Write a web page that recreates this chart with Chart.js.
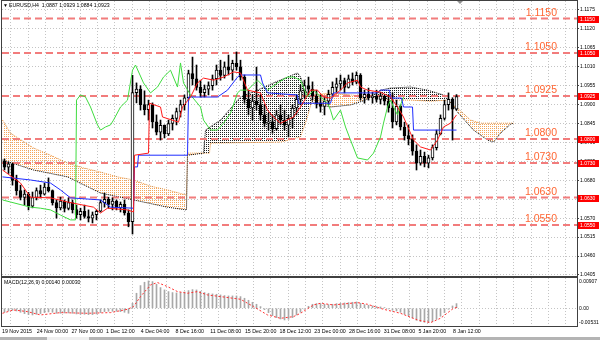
<!DOCTYPE html>
<html>
<head>
<meta charset="utf-8">
<script src="https://cdn.jsdelivr.net/npm/chart.js"></script>
<style>
  html, body { margin: 0; padding: 0; background: #fff; }
  #wrap { position: relative; width: 600px; height: 340px; overflow: hidden; }
  canvas { position: absolute; left: 0; }
  #main { top: 0; }
  #macd { top: 277px; }
</style>
</head>
<body>
<div id="wrap">
  <canvas id="main" width="600" height="277"></canvas>
  <canvas id="macd" width="600" height="63"></canvas>
</div>
<script>
// EURUSD H4 candles (one entry per 8h slot)
const candleOpen = [
  1.0735,1.0718,1.0728,1.0680,1.0650,1.0630,1.0640,1.0605,1.0630,1.0650,
  1.0640,1.0660,1.0650,1.0615,1.0600,1.0620,1.0598,1.0615,1.0595,1.0580,
  1.0590,1.0575,1.0570,1.0580,1.0590,1.0615,1.0625,1.0610,1.0620,1.0600,
  1.0610,1.0585,1.0560,1.0935,1.0945,1.0900,1.0885,1.0900,1.0850,1.0820,
  1.0840,1.0815,1.0845,1.0860,1.0880,1.0900,1.0920,1.0990,1.0975,1.0950,
  1.0935,1.0945,1.0955,1.0975,1.1000,1.0985,1.1010,1.1000,1.1020,1.1010,
  1.0980,1.0915,1.0890,1.0910,1.0900,1.0870,1.0845,1.0850,1.0830,1.0870,
  1.0855,1.0840,1.0860,1.0890,1.0915,1.0940,1.0955,1.0945,1.0925,1.0905,
  1.0895,1.0910,1.0930,1.0950,1.0960,1.0970,1.0950,1.0975,1.0965,1.0985,
  1.0920,1.0930,1.0920,1.0925,1.0915,1.0925,1.0910,1.0890,1.0850,1.0895,
  1.0835,1.0810,1.0800,1.0765,1.0730,1.0750,1.0730,1.0745,1.0775,1.0815,
  1.0860,1.0900,1.0915,1.0887
];
const candleHigh = [
  1.0742,1.0733,1.0730,1.0695,1.0666,1.0652,1.0645,1.0646,1.0658,1.0666,
  1.0672,1.0687,1.0652,1.0623,1.0631,1.0623,1.0629,1.0623,1.0608,1.0599,
  1.0608,1.0594,1.0588,1.0594,1.0623,1.0643,1.0631,1.0629,1.0623,1.0617,
  1.0623,1.0594,1.0985,1.0963,1.0955,1.0940,1.0913,1.0905,1.0870,1.0855,
  1.0841,1.0855,1.0870,1.0890,1.0913,1.0928,1.1000,1.1038,1.1015,1.0971,
  1.0957,1.0966,1.0986,1.1015,1.1029,1.1024,1.1044,1.1029,1.1053,1.1029,
  1.0986,1.0942,1.0928,1.1009,1.0928,1.0899,1.0875,1.0870,1.0884,1.0899,
  1.0884,1.0870,1.0899,1.0928,1.0957,1.0971,1.0980,1.0966,1.0942,1.0928,
  1.0922,1.0942,1.0966,1.0977,1.0986,1.0977,1.0986,1.0992,1.0995,1.0990,
  1.0942,1.0948,1.0936,1.0942,1.0936,1.0928,1.0928,1.0934,1.0913,1.0899,
  1.0849,1.0841,1.0812,1.0783,1.0768,1.0762,1.0753,1.0783,1.0826,1.0870,
  1.0913,1.0934,1.0920,1.0929
];
const candleLow = [
  1.0710,1.0700,1.0666,1.0637,1.0623,1.0608,1.0594,1.0600,1.0623,1.0629,
  1.0637,1.0646,1.0608,1.0570,1.0594,1.0588,1.0594,1.0585,1.0570,1.0565,
  1.0570,1.0559,1.0556,1.0565,1.0588,1.0602,1.0599,1.0594,1.0594,1.0588,
  1.0579,1.0545,1.0524,1.0905,1.0884,1.0870,1.0855,1.0832,1.0812,1.0797,
  1.0803,1.0810,1.0826,1.0841,1.0864,1.0884,1.0913,1.0957,1.0942,1.0922,
  1.0922,1.0928,1.0942,1.0957,1.0971,1.0977,1.0986,1.0971,1.1000,1.0971,
  1.0904,1.0870,1.0855,1.0884,1.0855,1.0835,1.0826,1.0817,1.0825,1.0841,
  1.0826,1.0806,1.0832,1.0870,1.0899,1.0919,1.0928,1.0913,1.0890,1.0878,
  1.0870,1.0899,1.0922,1.0936,1.0942,1.0934,1.0948,1.0957,1.0960,1.0913,
  1.0904,1.0913,1.0904,1.0907,1.0902,1.0899,1.0878,1.0832,1.0841,1.0826,
  1.0797,1.0783,1.0753,1.0710,1.0724,1.0719,1.0716,1.0739,1.0768,1.0812,
  1.0855,1.0884,1.0797,1.0884
];
const candleClose = [
  1.0718,1.0728,1.0680,1.0650,1.0630,1.0640,1.0605,1.0630,1.0650,1.0640,
  1.0660,1.0650,1.0615,1.0600,1.0620,1.0598,1.0615,1.0595,1.0580,1.0590,
  1.0575,1.0570,1.0580,1.0590,1.0615,1.0625,1.0610,1.0620,1.0600,1.0610,
  1.0585,1.0560,1.0935,1.0945,1.0900,1.0885,1.0900,1.0850,1.0820,1.0840,
  1.0815,1.0845,1.0860,1.0880,1.0900,1.0920,1.0990,1.0975,1.0950,1.0935,
  1.0945,1.0955,1.0975,1.1000,1.0985,1.1010,1.1000,1.1020,1.1010,1.0980,
  1.0915,1.0890,1.0910,1.0900,1.0870,1.0845,1.0850,1.0830,1.0870,1.0855,
  1.0840,1.0860,1.0890,1.0915,1.0940,1.0955,1.0945,1.0925,1.0905,1.0895,
  1.0910,1.0930,1.0950,1.0960,1.0970,1.0950,1.0975,1.0965,1.0985,1.0920,
  1.0930,1.0920,1.0925,1.0915,1.0925,1.0910,1.0890,1.0850,1.0895,1.0835,
  1.0810,1.0800,1.0765,1.0730,1.0750,1.0730,1.0745,1.0775,1.0815,1.0860,
  1.0900,1.0915,1.0887,1.0923
];

// Ichimoku lines as [slot, price]
const tenkan = [
  [-0.5,1.0710],[4,1.0672],[6.5,1.0631],[11.5,1.0629],[15.75,1.0617],[22.25,1.0602],[24,1.0585],
  [25.75,1.0599],[30.75,1.0594],[32.25,1.0588],[32.5,1.0753],[36,1.0759],[36.25,1.0904],[39,1.0893],
  [39.5,1.0864],[43.5,1.0849],[44.5,1.0893],[46.5,1.0922],[48.25,1.0963],[49.75,1.0977],[52.25,1.0971],
  [54.75,1.0980],[57.25,1.0995],[59,1.0992],[60.75,1.0942],[64,1.0934],[65.75,1.0884],[67.25,1.0864],
  [69,1.0846],[72.25,1.0864],[74,1.0893],[76.5,1.0942],[78.25,1.0942],[79.75,1.0922],[81.5,1.0919],
  [84,1.0942],[85.75,1.0963],[88.25,1.0971],[89,1.0951],[90.75,1.0942],[94,1.0936],[96.5,1.0922],
  [98.25,1.0893],[99.75,1.0864],[102.25,1.0797],[104,1.0777],[106.5,1.0768],[108.25,1.0797],
  [109.75,1.0835],[111.5,1.0846],[113,1.0870]
];
const kijun = [
  [-0.5,1.0690],[6.5,1.0681],[11.5,1.0672],[14,1.0652],[16.5,1.0629],[24,1.0623],[26.5,1.0602],
  [32.25,1.0599],[32.5,1.0719],[33.25,1.0719],[33.5,1.0753],[45.75,1.0753],[46,1.0922],[53.25,1.0922],
  [55.75,1.0942],[58.25,1.0980],[59,1.0986],[64,1.0986],[64.5,1.0963],[65.75,1.0934],[73.25,1.0928],
  [73.5,1.0904],[81.5,1.0904],[82.25,1.0934],[93.25,1.0934],[94,1.0942],[96.25,1.0942],[96.5,1.0919],
  [99.25,1.0919],[99.75,1.0893],[102,1.0893],[102.25,1.0826],[113,1.0826]
];
const chikou = [
  [-0.5,1.0623],[1.5,1.0617],[6.5,1.0602],[9,1.0599],[11.5,1.0594],[14,1.0579],[16.5,1.0565],
  [17.75,1.0565],[18,1.0913],[19,1.0928],[20.25,1.0922],[21.5,1.0893],[23.25,1.0841],[24,1.0826],
  [25.25,1.0835],[26.5,1.0841],[27.25,1.0855],[29,1.0893],[30.75,1.0913],[32,1.1000],[32.75,1.1015],
  [34.75,1.0963],[36.5,1.0934],[38.25,1.0951],[39.75,1.0980],[41.5,1.1000],[43.25,1.0951],[44,1.1021],
  [44.75,1.0963],[46.5,1.0928],[49,1.0893],[49.75,1.0855],[51.5,1.0826],[53.25,1.0826],[54.75,1.0846],
  [56.5,1.0875],[58.25,1.0934],[59,1.0942],[60.75,1.0942],[63.25,1.0971],[65.75,1.0942],[68.25,1.0963],
  [70.75,1.0980],[72.25,1.0980],[74,1.0971],[75.75,1.0922],[77.25,1.0942],[79,1.0922],[80.75,1.0904],
  [81.5,1.0884],[82.25,1.0855],[84,1.0884],[85.25,1.0835],[86.5,1.0797],[88.25,1.0745],[90.75,1.0739],
  [92.25,1.0759],[94,1.0806],[94.75,1.0846],[95.75,1.0893],[96.5,1.0913],[97.25,1.0893],[98.25,1.0870],
  [99,1.0899],[99.75,1.0922]
];
const spanA = [
  [-0.5,1.0739],[7.25,1.0710],[15.75,1.0690],[24,1.0643],[32.25,1.0623],[40.75,1.0602],[45.5,1.0594],
  [45.75,1.0753],[49.75,1.0759],[50.25,1.0826],[54,1.0855],[59,1.0922],[63.25,1.0942],[67.25,1.0963],
  [70.75,1.0980],[73.25,1.0992],[74,1.0980],[75.25,1.0942],[77.25,1.0904],[81.5,1.0893],[86.5,1.0899],
  [90.25,1.0913],[92.25,1.0928],[94,1.0942],[96.5,1.0948],[101.5,1.0951],[105.75,1.0942],[109.75,1.0928],
  [111.5,1.0907],[113.25,1.0878],[117.25,1.0826],[120.75,1.0797],[122.25,1.0791],[124,1.0817],
  [126.5,1.0843],[127.25,1.0846]
];
const spanB = [
  [-0.5,1.0855],[1.5,1.0817],[7.25,1.0774],[11.5,1.0753],[15.75,1.0730],[19.75,1.0716],[24,1.0704],
  [28.25,1.0690],[32.25,1.0681],[36.5,1.0663],[40.75,1.0652],[45.5,1.0637],[45.75,1.0759],[51.25,1.0759],
  [51.5,1.0788],[69,1.0791],[74,1.0806],[75.5,1.0855],[77.25,1.0928],[81.5,1.0934],[86.5,1.0928],
  [92.25,1.0922],[96.5,1.0913],[101.5,1.0913],[106.5,1.0910],[110.75,1.0913],[113.25,1.0890],
  [116.5,1.0855],[119,1.0846],[127.25,1.0846]
];

// MACD(12,26,9): main as histogram per slot, signal as [slot, value]
const macdMain = [
  -0.0012,-0.0008,-0.0006,-0.0008,-0.0012,-0.0016,-0.0019,-0.0020,-0.0018,-0.0016,
  -0.0013,-0.0011,-0.0012,-0.0015,-0.0015,-0.0014,-0.0014,-0.0015,-0.0017,-0.0018,
  -0.0018,-0.0019,-0.0019,-0.0017,-0.0013,-0.0010,-0.0009,-0.0009,-0.0009,-0.0010,
  -0.0012,-0.0015,0.0015,0.0045,0.0068,0.0078,0.0082,0.0080,0.0072,0.0062,
  0.0055,0.0050,0.0047,0.0046,0.0047,0.0049,0.0053,0.0056,0.0055,0.0051,
  0.0047,0.0045,0.0043,0.0042,0.0040,0.0038,0.0037,0.0037,0.0037,0.0035,
  0.0030,0.0024,0.0018,0.0012,0.0005,-0.0004,-0.0013,-0.0022,-0.0028,-0.0032,
  -0.0035,-0.0033,-0.0028,-0.0020,-0.0012,-0.0003,0.0006,0.0012,0.0014,0.0014,
  0.0012,0.0011,0.0012,0.0014,0.0015,0.0016,0.0017,0.0018,0.0019,0.0015,
  0.0011,0.0009,0.0007,0.0005,0.0004,0.0002,-0.0002,-0.0006,-0.0008,-0.0012,
  -0.0018,-0.0023,-0.0029,-0.0036,-0.0040,-0.0042,-0.0043,-0.0040,-0.0033,-0.0024,
  -0.0013,-0.0003,0.0007,0.0014
];
const macdSignal = [
  [-0.5,-0.0015],[2.25,-0.0005],[5.75,-0.0010],[9,-0.0020],[14,-0.0013],[20.75,-0.0015],[26.5,-0.0013],
  [30.75,-0.0003],[32.25,0.0005],[34,0.0035],[36.5,0.0070],[38.25,0.0077],[40.75,0.0065],[43.25,0.0050],
  [45.75,0.0045],[48.25,0.0050],[50.75,0.0040],[54,0.0035],[59,0.0027],[62.25,0.0005],[65.75,-0.0020],
  [69,-0.0030],[72.25,-0.0025],[74,-0.0015],[77.25,0.0010],[79,0.0015],[82.25,0.0010],[88.25,0.0017],
  [90.75,0.0012],[94.75,-0.0003],[99,-0.0015],[103.25,-0.0035],[106.5,-0.0043],[109,-0.0030],
  [112.25,0.0000],[113.25,0.0003]
];

// horizontal levels, axis ticks and labels
const levels = [1.1150, 1.1050, 1.0925, 1.0800, 1.0730, 1.0630, 1.0550];
const priceTicks = [1.1175, 1.1120, 1.1065, 1.1010, 1.0955, 1.0900, 1.0845, 1.0790,
                    1.0735, 1.0680, 1.0625, 1.0570, 1.0515, 1.0460, 1.0405];
const dateLabels = ['19 Nov 2015', '24 Nov 00:00', '27 Nov 00:00', '1 Dec 12:00', '4 Dec 04:00',
                    '8 Dec 16:00', '11 Dec 08:00', '15 Dec 20:00', '18 Dec 12:00', '23 Dec 00:00',
                    '28 Dec 16:00', '31 Dec 08:00', '5 Jan 20:00', '8 Jan 12:00'];
const macdTicks = [0.00907, 0.00, -0.00531];

const PRICE_MIN = 1.0402, PRICE_MAX = 1.1201;
const X_MIN = -0.625, X_MAX = 143.125, GRID_STEP = 4.3375;
const FONT = "'Liberation Sans', Arial, sans-serif";

Chart.defaults.font.family = FONT;
Chart.defaults.color = '#000';

// dotted hatch for the cloud
function hatch(color, w, h) {
  const c = document.createElement('canvas');
  c.width = w; c.height = h;
  const g = c.getContext('2d');
  g.fillStyle = color;
  g.fillRect(0, 0, 1, 1);
  return g.createPattern(c, 'repeat');
}
const orangeHatch = hatch('#f5a65a', 2, 2);
const blackHatch = hatch('#202020', 2, 2);

const pts = arr => arr.map(([x, y]) => ({ x, y }));
function lineDs(data, color, width, dash, order) {
  return { type: 'line', data: pts(data), borderColor: color, borderWidth: width, borderDash: dash,
           pointRadius: 0, tension: 0, fill: false, order };
}
function xGrid(scale) {
  const t = [];
  for (let k = 0; X_MIN + k * GRID_STEP <= X_MAX + 0.01; k++) t.push({ value: X_MIN + k * GRID_STEP });
  scale.ticks = t;
}
const gridStyle = { color: '#c4c4c4', drawTicks: false };
const dotted = { display: false, dash: [1, 2] };

const slots = candleOpen.map((_, i) => i);

const mainDatasets = [
  lineDs(spanB, '#f0963c', 1, [1, 1], 11),
  Object.assign(lineDs(spanA, '#000000', 1, [1, 1], 10),
                { fill: { target: 0, above: blackHatch, below: orangeHatch } }),
  ...levels.map(l => lineDs([[X_MIN, l], [X_MAX, l]], '#f27c7c', 2, [7, 4], 8)),
  { type: 'bar', data: slots.map(i => ({ x: i, y: [candleLow[i], candleHigh[i]] })),
    backgroundColor: '#000', barThickness: 1, grouped: false, order: 6 },
  { type: 'bar', data: slots.map(i => ({ x: i, y: [candleOpen[i], candleClose[i]] })),
    backgroundColor: c => candleClose[c.dataIndex] >= candleOpen[c.dataIndex] ? '#fff' : '#000',
    borderColor: '#000', borderWidth: 1, borderSkipped: false, barThickness: 3, grouped: false, order: 5 },
  lineDs(chikou, '#3fdc3f', 1, [], 3),
  lineDs(kijun, '#1e2cff', 1, [], 2),
  lineDs(tenkan, '#ff1a1a', 1, [], 1)
];

const mainDecor = {
  id: 'mainDecor',
  afterDraw(chart) {
    const { ctx, chartArea: a, scales: { x, y } } = chart;
    ctx.save();
    levels.forEach(l => {
      const py = Math.round(y.getPixelForValue(l));
      ctx.font = '10.5px ' + FONT;
      ctx.fillStyle = '#ff6633';
      ctx.textAlign = 'right';
      ctx.textBaseline = 'alphabetic';
      ctx.fillText(l.toFixed(4), a.right - 20, py - 3);
      ctx.fillStyle = '#ff0000';
      ctx.fillRect(a.right + 1, py - 3, 21, 7);
      ctx.fillStyle = '#fff';
      ctx.font = '5px ' + FONT;
      ctx.textAlign = 'left';
      ctx.textBaseline = 'middle';
      ctx.fillText(l.toFixed(4), a.right + 3, py + 0.5);
    });
    ctx.strokeStyle = '#404040';
    ctx.lineWidth = 1;
    ctx.strokeRect(a.left - 0.5, a.top - 0.5, a.right - a.left + 1, a.bottom - a.top + 1);
    // chart shift marker above the last bar
    const sx = Math.round(x.getPixelForValue(candleClose.length - 1)) + 3;
    ctx.fillStyle = '#909090';
    ctx.beginPath();
    ctx.moveTo(sx - 3, a.top);
    ctx.lineTo(sx + 3, a.top);
    ctx.lineTo(sx, a.top + 3);
    ctx.closePath();
    ctx.fill();
    const n = candleClose.length - 1;
    ctx.fillStyle = '#000';
    ctx.textBaseline = 'middle';
    ctx.textAlign = 'left';
    ctx.font = '5px ' + FONT;
    ctx.fillText('▼', 3, 6);
    ctx.font = '5.2px ' + FONT;
    ctx.fillText('EURUSD,H4  ' + [candleOpen[n], candleHigh[n], candleLow[n], candleClose[n]]
      .map(v => v.toFixed(4)).join(' '), 9, 6);
    ctx.restore();
  }
};

new Chart(document.getElementById('main'), {
  type: 'bar',
  data: { datasets: mainDatasets },
  options: {
    animation: false, responsive: false, devicePixelRatio: 1, events: [],
    layout: { padding: { left: 2, top: 1, right: 0, bottom: 1 } },
    plugins: { legend: { display: false }, tooltip: { enabled: false } },
    scales: {
      x: {
        type: 'linear', min: X_MIN, max: X_MAX, offset: false,
        grid: gridStyle, border: dotted, ticks: { display: false },
        afterBuildTicks: xGrid,
        afterFit: s => { s.height = 0; s.paddingLeft = 0; s.paddingRight = 0; }
      },
      y: {
        position: 'right', min: PRICE_MIN, max: PRICE_MAX,
        grid: { color: '#c4c4c4', drawTicks: true, tickLength: 2, tickColor: '#404040' },
        border: dotted,
        ticks: { font: { size: 5 }, padding: 1, callback: v => v.toFixed(4) },
        afterBuildTicks: s => { s.ticks = priceTicks.map(v => ({ value: v })); },
        afterFit: s => { s.width = 23; s.paddingTop = 0; s.paddingBottom = 0; }
      }
    }
  },
  plugins: [mainDecor]
});

const macdDecor = {
  id: 'macdDecor',
  afterDraw(chart) {
    const { ctx, chartArea: a, scales: { y } } = chart;
    ctx.save();
    ctx.strokeStyle = '#404040';
    ctx.lineWidth = 1;
    ctx.strokeRect(a.left - 0.5, a.top - 0.5, a.right - a.left + 1, a.bottom - a.top + 1);
    ctx.fillStyle = '#000';
    ctx.font = '5px ' + FONT;
    ctx.textAlign = 'left';
    ctx.textBaseline = 'middle';
    const shift = [3.5, 0, -3.5];
    macdTicks.forEach((v, i) => {
      ctx.fillText(v === 0 ? '0.00' : v.toFixed(5), a.right + 2, y.getPixelForValue(v) + shift[i]);
    });
    const last = macdSignal[macdSignal.length - 1][1];
    ctx.font = '5.2px ' + FONT;
    ctx.fillText('MACD(12,26,9) ' + macdMain[macdMain.length - 1].toFixed(5) + ' ' + last.toFixed(5),
                 a.left + 2, a.top + 5);
    ctx.fillStyle = '#b4b4b4';
    ctx.fillRect(0, chart.height - 3, chart.width, 3);
    ctx.fillStyle = '#efefef';
    ctx.fillRect(47, chart.height - 3, 42, 3);
    ctx.restore();
  }
};

new Chart(document.getElementById('macd'), {
  type: 'bar',
  data: {
    datasets: [
      { type: 'bar', data: slots.map(i => ({ x: i, y: macdMain[i] })), backgroundColor: '#a8a8a8',
        barThickness: 1, grouped: false, order: 2 },
      lineDs(macdSignal, '#ff3030', 1, [2, 2], 1)
    ]
  },
  options: {
    animation: false, responsive: false, devicePixelRatio: 1, events: [],
    layout: { padding: { left: 2, top: 1, right: 0, bottom: 0 } },
    plugins: { legend: { display: false }, tooltip: { enabled: false } },
    scales: {
      x: {
        type: 'linear', min: X_MIN, max: X_MAX, offset: false,
        grid: gridStyle, border: dotted,
        ticks: {
          font: { size: 5.3 }, padding: 2, align: 'start', autoSkip: false, maxRotation: 0,
          callback: (v, i) => (i % 2 === 0 && dateLabels[i / 2]) ? dateLabels[i / 2] : ''
        },
        afterBuildTicks: xGrid,
        afterFit: s => { s.height = 14; s.paddingLeft = 0; s.paddingRight = 0; }
      },
      y: {
        position: 'right', min: macdTicks[2], max: macdTicks[0],
        grid: { color: '#c4c4c4', drawTicks: false },
        border: dotted,
        ticks: { display: false },
        afterBuildTicks: s => { s.ticks = [{ value: 0 }]; },
        afterFit: s => { s.width = 23; s.paddingTop = 0; s.paddingBottom = 0; }
      }
    }
  },
  plugins: [macdDecor]
});
</script>
</body>
</html>
